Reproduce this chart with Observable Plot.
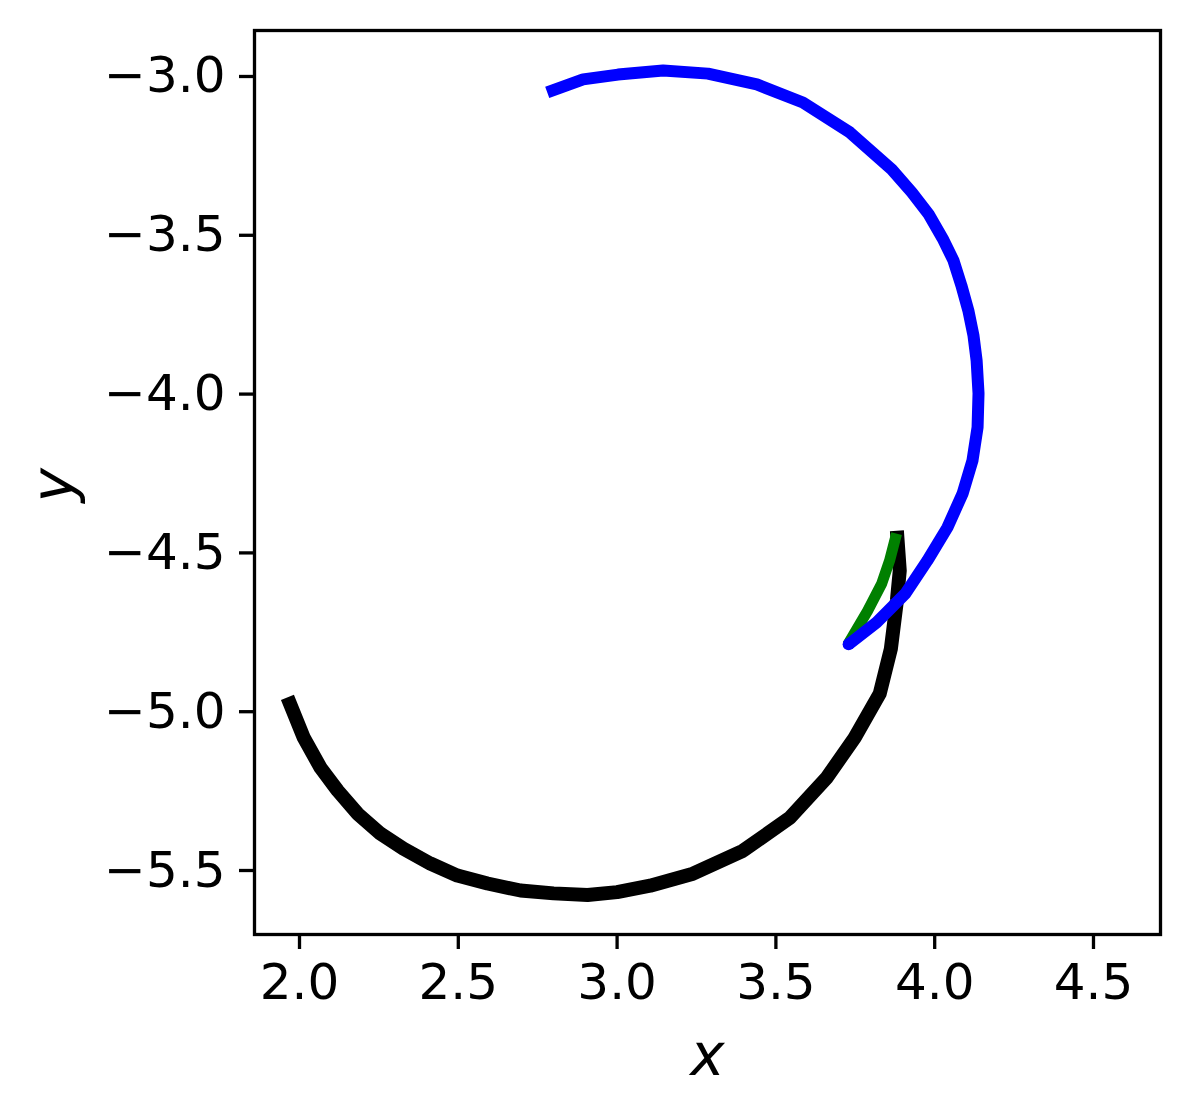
<!DOCTYPE html>
<html>
<head>
<meta charset="utf-8">
<script src="https://cdn.jsdelivr.net/npm/d3@7"></script>
<script src="https://cdn.jsdelivr.net/npm/@observablehq/plot@0.6"></script>
<style>
  html, body { margin: 0; padding: 0; background: #fff; }
</style>
</head>
<body>
<div id="chart"></div>
<script>
// Black arc (drawn first)
const blackX = [3.881, 3.890, 3.881, 3.862, 3.827, 3.748, 3.660, 3.544, 3.396, 3.239, 3.104, 3.000, 2.907, 2.800, 2.696, 2.592, 2.497, 2.412, 2.327, 2.255, 2.183, 2.120, 2.066, 2.013, 1.962];
const blackY = [-4.430, -4.556, -4.650, -4.802, -4.943, -5.082, -5.208, -5.334, -5.438, -5.510, -5.548, -5.568, -5.577, -5.572, -5.563, -5.541, -5.516, -5.478, -5.431, -5.384, -5.321, -5.248, -5.176, -5.081, -4.955];

// Green short arc
const greenX = [3.880, 3.858, 3.833, 3.789, 3.726];
const greenY = [-4.439, -4.524, -4.597, -4.682, -4.789];

// Blue arc
const blueX = [2.780, 2.893, 3.003, 3.145, 3.286, 3.440, 3.585, 3.733, 3.865, 3.928, 3.982, 4.025, 4.059, 4.084, 4.106, 4.122, 4.132, 4.138, 4.135, 4.119, 4.088, 4.040, 3.977, 3.908, 3.817, 3.729];
const blueY = [-3.050, -3.009, -2.994, -2.981, -2.991, -3.025, -3.082, -3.176, -3.293, -3.365, -3.435, -3.510, -3.579, -3.658, -3.737, -3.815, -3.894, -3.998, -4.105, -4.209, -4.313, -4.420, -4.524, -4.628, -4.719, -4.788];

const xTicks = [2.0, 2.5, 3.0, 3.5, 4.0, 4.5];
const yTicks = [-3.0, -3.5, -4.0, -4.5, -5.0, -5.5];

const toRows = (xs, ys) => xs.map((x, i) => ({x, y: ys[i]}));
const black = toRows(blackX, blackY);
const green = toRows(greenX, greenY);
const blue = toRows(blueX, blueY);

const chart = Plot.plot({
  width: 1190,
  height: 1116,
  marginLeft: 254,
  marginRight: 30,
  marginTop: 30,
  marginBottom: 182,
  style: {fontFamily: "DejaVu Sans", background: "#fff", color: "#000", overflow: "visible"},
  x: {domain: [1.8583, 4.711]},
  y: {domain: [-5.7015, -2.8552]},
  marks: [
    Plot.line(black, {x: "x", y: "y", stroke: "#000", strokeWidth: 14, strokeLinecap: "butt", strokeLinejoin: "round"}),
    Plot.line(green, {x: "x", y: "y", stroke: "#008000", strokeWidth: 11, strokeLinecap: "butt", strokeLinejoin: "round"}),
    Plot.line(blue, {x: "x", y: "y", stroke: "#0000ff", strokeWidth: 12, strokeLinecap: "butt", strokeLinejoin: "round"}),
    Plot.dot(blue.slice(-1), {x: "x", y: "y", r: 6, fill: "#0000ff"}),
    Plot.axisX({ticks: xTicks, tickFormat: ".1f", tickSize: 15, tickPadding: 14, fontSize: 50, strokeWidth: 3.3, label: null}),
    Plot.axisY({ticks: yTicks, tickFormat: ".1f", tickSize: 15, tickPadding: 14, fontSize: 50, strokeWidth: 3.3, label: null}),
    Plot.frame({stroke: "#000", strokeWidth: 3.3}),
    Plot.text(["x"], {frameAnchor: "bottom", dy: 140, text: d => d, fontSize: 58, fontStyle: "italic", fill: "#000"}),
    Plot.text(["y"], {frameAnchor: "left", dx: -200, dy: 20, rotate: -90, text: d => d, fontSize: 58, fontStyle: "italic", fill: "#000"})
  ]
});
document.getElementById("chart").appendChild(chart);
</script>
</body>
</html>
